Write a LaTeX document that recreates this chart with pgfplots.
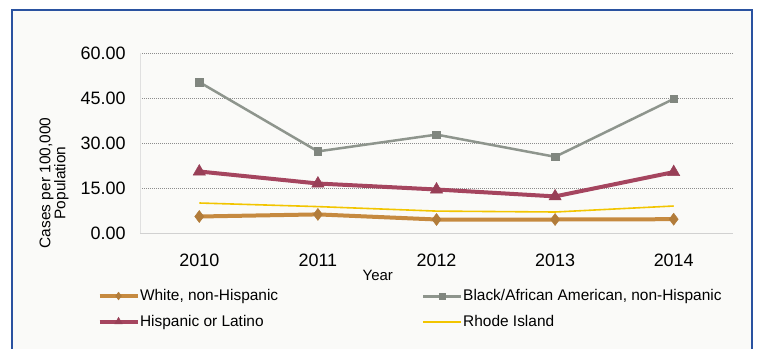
\documentclass[border=0pt]{standalone}
\usepackage{pgfplots}
\pgfplotsset{compat=1.18}
\usepackage{fontspec}
\setmainfont{Liberation Sans}

\definecolor{frameblue}{HTML}{2A52A0}
\definecolor{whiteline}{HTML}{C68A40}
\definecolor{blackline}{HTML}{8E958D}
\definecolor{hispline}{HTML}{A5455F}
\definecolor{riline}{HTML}{F2C500}
\definecolor{panel}{HTML}{FAFAF8}

\begin{document}
\begin{tikzpicture}[x=1bp,y=1bp]
\useasboundingbox (0,0) rectangle (758,348);
\fill[white] (0,0) rectangle (758,348);
\draw[fill=panel, draw=frameblue, line width=1.5bp] (12,-6) rectangle (752,338);
\begin{axis}[
  at={(140bp,115bp)}, anchor=south west,
  scale only axis, width=593bp, height=180bp,
  xmin=-0.5, xmax=4.5, ymin=0, ymax=60,
  clip=false,
  axis line style={draw=none},
  tick style={draw=none},
  xtick={0,1,2,3,4},
  xticklabels={2010,2011,2012,2013,2014},
  ytick={0,15,30,45,60},
  ymajorgrids,
  major grid style={black!45, line width=0.9bp, dash pattern=on 1bp off 1bp},
  /pgf/number format/assume math mode=true,
  yticklabel={\pgfmathprintnumber[fixed,fixed zerofill,precision=2]{\tick}},
  ticklabel style={font=\fontsize{18}{20}\selectfont},
  xticklabel style={yshift=-17bp},
  yticklabel style={xshift=-11bp},
  xlabel={Year},
  xlabel style={font=\fontsize{15}{17}\selectfont, at={(axis description cs:0.401,-0.233)}, anchor=center},
  ylabel={Cases per 100,000\\Population},
  ylabel style={font=\fontsize{15.5}{15}\selectfont, align=center, rotate=0, at={(axis description cs:-0.145,0.278)}, anchor=center},
  legend columns=2,
  legend cell align=left,
  legend style={draw=none, fill=none, font=\fontsize{15.5}{17}\selectfont,
    at={(axis description cs:-0.077,-0.30)}, anchor=north west,
    nodes={inner sep=0.5bp},
    row sep=12bp,
    /tikz/every even column/.append style={column sep=143bp}},
  legend image code/.code={\draw[mark repeat=2,mark phase=2,#1] plot coordinates {(0bp,0bp) (19bp,0bp) (38bp,0bp)};},
]
% light baseline and left edge of the plot area
\draw[black!18, line width=1bp] (axis cs:-0.5,0) -- (axis cs:4.5,0);
\draw[black!12, line width=0.8bp] (axis cs:-0.5,0) -- (axis cs:-0.5,60);

% legend keys: same colours as the series, smaller markers
\addlegendimage{whiteline, line width=4bp, mark=diamond*, mark size=4bp, mark options={fill=whiteline!90!black, draw=whiteline!90!black, line width=0.3bp}}
\addlegendentry{White, non-Hispanic}
\addlegendimage{blackline, line width=3bp, mark=square*, mark size=3bp, mark options={fill=blackline!90!black, draw=blackline!90!black, line width=0.3bp}}
\addlegendentry{Black/African American, non-Hispanic}
\addlegendimage{hispline, line width=4bp, mark=triangle*, mark size=4.5bp, mark options={fill=hispline!92!black, draw=hispline!92!black, line width=0.3bp}}
\addlegendentry{Hispanic or Latino}
\addlegendimage{riline, line width=2bp}
\addlegendentry{Rhode Island}

\addplot[forget plot, whiteline, line width=4bp, mark=diamond*, mark size=6bp,
  mark options={fill=whiteline!90!black, draw=whiteline!90!black, line width=0.5bp}]
  coordinates {(0,5.5) (1,6.2) (2,4.5) (3,4.5) (4,4.6)};

\addplot[forget plot, blackline, line width=2.5bp, mark=square*, mark size=3.8bp,
  mark options={fill=blackline!90!black, draw=blackline!90!black, line width=0.5bp}]
  coordinates {(0,50.3) (1,27.2) (2,32.8) (3,25.4) (4,44.7)};

\addplot[forget plot, hispline, line width=4bp, mark=triangle*, mark size=7bp,
  mark options={fill=hispline!92!black, draw=hispline!92!black, line width=0.5bp}]
  coordinates {(0,20.5) (1,16.5) (2,14.5) (3,12.2) (4,20.3)};

\addplot[forget plot, riline, line width=1.6bp, mark=none]
  coordinates {(0,10.0) (1,8.8) (2,7.3) (3,7.0) (4,9.0)};
\end{axis}
\end{tikzpicture}
\end{document}
